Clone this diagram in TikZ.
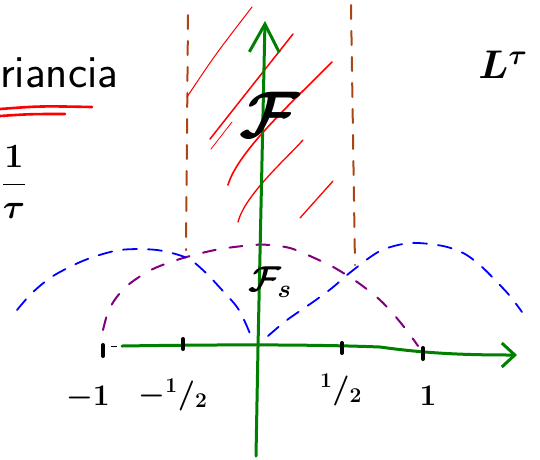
\documentclass[tikz,border=0pt]{standalone}
\usepackage{fix-cm}
\usetikzlibrary{arrows.meta}
\definecolor{axgreen}{RGB}{0,128,0}
\definecolor{brownc}{RGB}{170,70,20}
\definecolor{purplec}{RGB}{128,0,128}
\begin{document}
\begin{tikzpicture}[x=1pt,y=-1pt,
  axis/.style={axgreen,line width=3pt,line cap=round,line join=round},
  tickmark/.style={black,line width=4pt,line cap=round},
  bound/.style={brownc,line width=2pt,line cap=round,dash pattern=on 14pt off 12pt},
  hatch/.style={red,line cap=round},
  bluecurve/.style={blue,line width=1.8pt,line cap=round,dash pattern=on 14pt off 11pt},
  purplecurve/.style={purplec,line width=2pt,line cap=round,dash pattern=on 13pt off 14pt},
  lbl/.style={font=\fontsize{30}{36}\selectfont\boldmath,inner sep=0pt},
  uline/.style={red,line width=2.6pt,line cap=round}
]
\useasboundingbox (0,0) rectangle (540,459);

% band boundaries
\draw[bound] (188,15) -- (186,250);
\draw[bound] (351,5) -- (355,265);

% hatching
\draw[hatch,line width=1pt] (187,97) .. controls (215,55) .. (252,7);
\draw[hatch,line width=1.5pt] (210,139) -- (293,34);
\draw[hatch,line width=0.8pt] (211,149) -- (232,122);
\draw[hatch,line width=1.6pt] (228,185) .. controls (238,150) and (300,95) .. (332,62);
\draw[hatch,line width=1.3pt] (238,222) .. controls (245,195) and (285,160) .. (303,140);
\draw[hatch,line width=1.3pt] (300,218) -- (333,181);

% spectra
\draw[purplecurve] plot[smooth] coordinates {(103,330)(108,312)(116,298)(128,285)(147,272)(165,264)(190,256)(220,249)(253,245)(270,245)(290,248)(310,256)(335,268)(360,284)(380,300)(395,316)(408,332)(418,346)};
\draw[bluecurve] plot[smooth] coordinates {(17,310)(32,293)(53,276)(85,260)(120,250)(157,250)(187,258)(205,272)(222,290)(237,307)(245,322)(251,336)};
\draw[bluecurve] plot[smooth] coordinates {(268,336)(287,320)(313,302)(332,288)(352,271)(380,251)(410,243)(443,246)(465,254)(482,267)(497,282)(510,296)(522,312)};

% axes
\coordinate (xs) at (122,346);
\coordinate (xm) at (380,347);
\coordinate (xe) at (517,355);
\coordinate (ys) at (256,456);
\coordinate (o) at (258,347);
\coordinate (ye) at (265,21);
\draw[axis,-{Straight Barb[length=13pt,width=24pt]}] (xs) .. controls (250,344) and (330,345) .. (xm) .. controls (430,354) and (470,355) .. (xe);
\draw[axis,-{Straight Barb[length=28pt,width=30pt]}] (ys) -- (o) -- (ye);
\draw[black,line width=1pt] (111,346) -- (117,346);

% ticks
\draw[tickmark] (103,345) -- (103,356);
\draw[tickmark] (183,339) -- (183,349);
\draw[tickmark] (342,343) -- (342,353);
\draw[tickmark] (423,348) -- (423,359);

% labels
\node[lbl] (lm1) at (88,398) {$-1$};
\node[lbl] (lmh) at (173,395) {$-{}^{1}/_{2}$};
\node[lbl] (lph) at (341,390) {${}^{1}/_{2}$};
\node[lbl] (l1) at (428,396) {$1$};

\node[font=\fontsize{66}{70}\selectfont\boldmath,inner sep=0pt] (F) at (270,115) {$\mathcal{F}$};
\node[font=\fontsize{36}{40}\selectfont\boldmath,inner sep=0pt] (Fs) at (270,282) {$\mathcal{F}_{s}$};

\node[anchor=base west,font=\fontsize{46}{50}\selectfont\sffamily,inner sep=0pt] (title) at (0,87) {riancia};
\draw[uline] (0,109) .. controls (40,106) .. (92,107);
\draw[uline] (0,116) .. controls (30,114) .. (65,114);

\node[font=\fontsize{34}{38}\selectfont\boldmath,inner sep=0pt] (frac) at (14,182) {$\displaystyle\frac{1}{\tau}$};
\node[font=\fontsize{40}{44}\selectfont\boldmath,inner sep=0pt] (L) at (503,65) {$L^{\tau}$};
\end{tikzpicture}
\end{document}
